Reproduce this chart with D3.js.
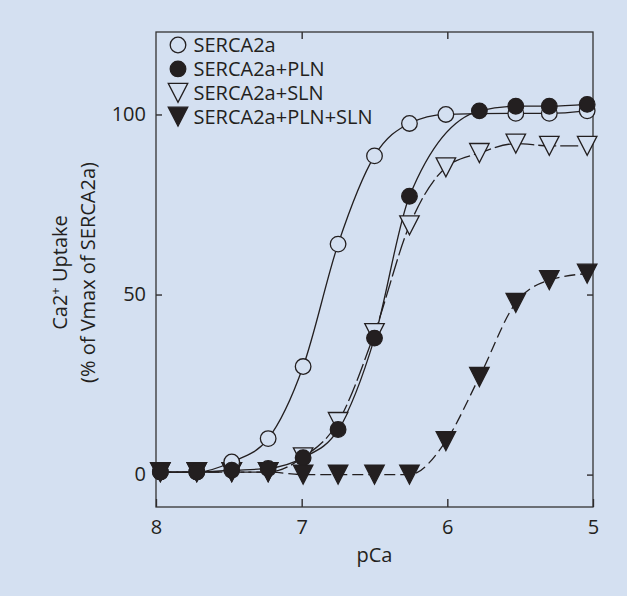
<!DOCTYPE html>
<html>
<head>
<meta charset="utf-8">
<script src="https://cdn.jsdelivr.net/npm/d3@7"></script>
<style>
	body { margin: 0; background: #d4e0f1; }
	svg { display: block; }
	text { font-family: "Open Sans", sans-serif; fill: #231f20; }
</style>
</head>
<body>
<svg id="chart" width="627" height="596"></svg>
<script>
// x positions of the measurements (pCa)
var pCa = [7.97, 7.72, 7.48, 7.23, 6.99, 6.75, 6.5, 6.26, 6.01, 5.78, 5.53, 5.3, 5.04];

// Ca2+ uptake, % of Vmax of SERCA2a (null = no point)
var serca = [0.7, 0.7, 3.5, 10, 30, 64, 88.5, 97.5, 100, null, 100.3, 100.3, 101];
var sercaPln = [0.7, 0.7, 1.2, 1.7, 4.7, 12.5, 37.9, 77.3, null, 101, 102.3, 102.3, 102.8];
var sercaSln = [0.7, 0.7, 0.7, 0.7, 4.8, 14.6, 39.3, 69.2, 85.3, 89.3, 91.9, 91.3, 91.3];
var sercaPlnSln = [0.7, 0.7, 0.7, 0.7, 0, 0, 0, 0, 9.3, 27.1, 47.7, 54, 55.8];

var xTicks = [8, 7, 6, 5];
var yTicks = [0, 50, 100];

var seriesNames = ["SERCA2a", "SERCA2a+PLN", "SERCA2a+SLN", "SERCA2a+PLN+SLN"];

var bg = "#d4e0f1";
var ink = "#231f20";

var margin = {top: 32, right: 34, bottom: 89, left: 156};

var svg = d3.select("#chart");
var width = +svg.attr("width") - margin.left - margin.right;
var height = +svg.attr("height") - margin.top - margin.bottom;
var g = svg.append("g").attr("transform", "translate(" + margin.left + "," + margin.top + ")");

var x = d3.scaleLinear().domain([8, 5]).range([0, width]);
var y = d3.scaleLinear().domain([-9, 122.9]).range([height, 0]);

// series: values, marker, line dash
var series = [
	{name: seriesNames[2], values: sercaSln, marker: "triangle", filled: false, dash: "18,4"},
	{name: seriesNames[3], values: sercaPlnSln, marker: "triangle", filled: true, dash: "11,5"},
	{name: seriesNames[0], values: serca, marker: "circle", filled: false, dash: null},
	{name: seriesNames[1], values: sercaPln, marker: "circle", filled: true, dash: null}
];

function triangle(w, h){
	return "M" + (-w / 2) + "," + (-h / 2) + "L" + (w / 2) + "," + (-h / 2) + "L0," + (h / 2) + "Z";
}

// axes
g.append("g")
	.attr("transform", "translate(0," + height + ")")
	.call(d3.axisBottom(x).tickValues(xTicks).tickSize(-8).tickPadding(12.5).tickFormat(d3.format("d")));

g.append("g")
	.call(d3.axisTop(x).tickValues([7, 6]).tickSize(-7).tickFormat(""));

g.append("g")
	.call(d3.axisLeft(y).tickValues(yTicks).tickSize(-6).tickPadding(10));

g.append("g")
	.attr("transform", "translate(" + width + ",0)")
	.call(d3.axisRight(y).tickValues(yTicks).tickSize(-6).tickFormat(""));

g.selectAll(".domain").remove();
g.selectAll(".tick line").attr("stroke", ink).attr("stroke-width", 1.3);
g.selectAll(".tick text")
	.style("font-family", "'Open Sans', sans-serif")
	.style("font-size", "20px")
	.attr("fill", ink);

g.append("rect")
	.attr("width", width)
	.attr("height", height)
	.attr("fill", "none")
	.attr("stroke", "#333")
	.attr("stroke-width", 1.3);

// lines
var line = d3.line()
	.defined(function(d){ return d[1] != null; })
	.x(function(d){ return x(d[0]); })
	.y(function(d){ return y(d[1]); })
	.curve(d3.curveMonotoneX);

series.forEach(function(s){
	var pts = pCa.map(function(p, i){ return [p, s.values[i]]; })
		.filter(function(d){ return d[1] != null; });
	g.append("path")
		.datum(pts)
		.attr("fill", "none")
		.attr("stroke", ink)
		.attr("stroke-width", 1.3)
		.attr("stroke-dasharray", s.dash)
		.attr("d", line);
});

// markers
series.forEach(function(s){
	var pts = pCa.map(function(p, i){ return [p, s.values[i]]; })
		.filter(function(d){ return d[1] != null; });
	var sel = g.selectAll(null).data(pts).enter();
	var m;
	if(s.marker == "circle"){
		m = sel.append("circle")
			.attr("cx", function(d){ return x(d[0]); })
			.attr("cy", function(d){ return y(d[1]); })
			.attr("r", 7.8);
	}
	else{
		m = sel.append("path")
			.attr("d", triangle(19.5, 19))
			.attr("transform", function(d){ return "translate(" + x(d[0]) + "," + y(d[1]) + ")"; });
	}
	m.attr("fill", s.filled ? ink : bg)
		.attr("stroke", ink)
		.attr("stroke-width", 1.3);
});

// legend
var legendOrder = [2, 3, 0, 1];
var legend = svg.append("g").attr("transform", "translate(178,45)");
seriesNames.forEach(function(name, i){
	var s = series[legendOrder.indexOf(i)];
	var row = legend.append("g").attr("transform", "translate(0," + (i * 23.9) + ")");
	if(s.marker == "circle"){
		row.append("circle").attr("r", 7.8);
	}
	else{
		row.append("path").attr("d", triangle(19.5, 19));
	}
	row.select(":first-child")
		.attr("fill", s.filled ? ink : bg)
		.attr("stroke", ink)
		.attr("stroke-width", 1.3);
	row.append("text")
		.attr("x", 15.5)
		.attr("y", 7.4)
		.style("font-size", "20px")
		.text(name);
});

// axis titles
svg.append("text")
	.attr("x", margin.left + width / 2)
	.attr("y", 561.5)
	.attr("text-anchor", "middle")
	.style("font-size", "20px")
	.text("pCa");

var yTitle = svg.append("text")
	.attr("transform", "translate(66.5,272.5) rotate(-90)")
	.attr("text-anchor", "middle")
	.style("font-size", "20px");
yTitle.append("tspan").text("Ca2");
yTitle.append("tspan").attr("dy", "-7").style("font-size", "13px").text("+");
yTitle.append("tspan").attr("dy", "7").text(" Uptake");

svg.append("text")
	.attr("transform", "translate(95,272.5) rotate(-90)")
	.attr("text-anchor", "middle")
	.style("font-size", "20px")
	.text("(% of Vmax of SERCA2a)");
</script>
</body>
</html>
